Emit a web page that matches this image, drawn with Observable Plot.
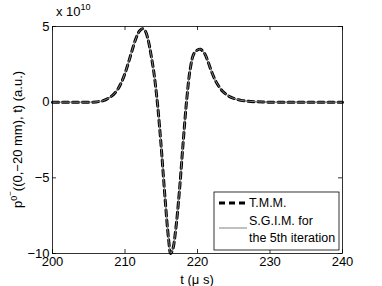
<!DOCTYPE html>
<html><head><meta charset="utf-8">
<script src="https://cdn.jsdelivr.net/npm/d3@7"></script>
<script src="https://cdn.jsdelivr.net/npm/@observablehq/plot@0.6"></script>
<style>
html,body{margin:0;padding:0;background:#fff;}
#chart{position:relative;width:382px;height:286px;font-family:"Liberation Sans",Arial,sans-serif;}
</style></head>
<body><div id="chart"></div>
<script>
const times = [200,201,202,203,204,205,206,206.5,207,207.5,208,208.5,209,209.5,210,210.5,211,211.5,212,212.4,212.8,213.2,213.6,214,214.5,215,215.5,216,216.3,216.6,217,217.5,218,218.5,219,219.5,220,220.4,221,221.5,222,222.5,223,223.5,224,224.5,225,226,227,228,229,230,232,234,236,238,240];
const tmm = [0,0,0,0,0,0,0.01,0.05,0.1,0.2,0.35,0.55,0.85,1.3,1.9,2.65,3.45,4.2,4.7,4.85,4.7,4.1,3.1,1.9,-0.2,-3.0,-6.2,-9.0,-10.0,-9.7,-8.4,-5.9,-2.8,0.1,2.2,3.2,3.45,3.5,3.2,2.6,1.95,1.4,1.0,0.7,0.5,0.35,0.25,0.12,0.06,0.03,0.01,0,0,0,0,0,0];
const sgim = tmm.slice();
const xTicks = [200,210,220,230,240];
const yTicks = [5,0,-5,-10];
const seriesNames = ["T.M.M.", "S.G.I.M. for", "the 5th iteration"];

const rowsA = times.map((t,i)=>({t, v: tmm[i]}));
const rowsB = times.map((t,i)=>({t, v: sgim[i]}));

const W = 382, H = 286;
const mL = 52, mR = 40, mT = 26, mB = 33;
const pxPerX = (W - mL - mR) / 40;
const pxPerY = (H - mT - mB) / 15;
const tx = 4 / pxPerX, ty = 4 / pxPerY;

const fmt = d => d < 0 ? "\u2212" + Math.abs(d) : String(d);

const plot = Plot.plot({
  width: W, height: H,
  marginLeft: mL, marginRight: mR, marginTop: mT, marginBottom: mB,
  style: {fontFamily: '"Liberation Sans", Arial, sans-serif', fontSize: "13px", color: "#000", background: "#fff"},
  x: {domain: [200, 240]},
  y: {domain: [-10, 5]},
  marks: [
    Plot.axisX(xTicks, {tickSize: 0, tickPadding: 3, label: null, fontSize: 13, tickFormat: fmt}),
    Plot.axisY(yTicks, {tickSize: 0, tickPadding: 3, label: null, fontSize: 13, tickFormat: fmt}),
    Plot.ruleX(xTicks, {y1: -10, y2: -10 + ty, stroke: "#000", strokeWidth: 0.8}),
    Plot.ruleX(xTicks, {y1: 5, y2: 5 - ty, stroke: "#000", strokeWidth: 0.8}),
    Plot.ruleY(yTicks, {x1: 200, x2: 200 + tx, stroke: "#000", strokeWidth: 0.8}),
    Plot.ruleY(yTicks, {x1: 240, x2: 240 - tx, stroke: "#000", strokeWidth: 0.8}),
    Plot.line(rowsA, {x: "t", y: "v", stroke: "#000", strokeWidth: 3, strokeDasharray: "6,4", curve: "catmull-rom"}),
    Plot.line(rowsB, {x: "t", y: "v", stroke: "#808080", strokeWidth: 1, curve: "catmull-rom"}),
    Plot.frame({stroke: "#000", strokeWidth: 0.8})
  ]
});
document.getElementById("chart").appendChild(plot);

const svg = d3.select(plot);
const font = '"Liberation Sans", Arial, sans-serif';
// exponent label
const ex = svg.append("text").attr("x", 56).attr("y", 16).attr("text-anchor", "start")
  .attr("font-family", font).attr("font-size", 13).attr("fill", "#000");
ex.append("tspan").text("x 10");
ex.append("tspan").attr("dy", -6).attr("font-size", 9).text("10");

// x label
svg.append("text").attr("x", (mL + W - mR) / 2).attr("y", 284).attr("text-anchor", "middle")
  .attr("font-family", font).attr("font-size", 13).attr("fill", "#000").text("t (\u03bc s)");

// y label
const yl = svg.append("text").attr("transform", `translate(22,${(mT + H - mB) / 2}) rotate(-90)`)
  .attr("text-anchor", "middle").attr("font-family", font).attr("font-size", 13).attr("fill", "#000");
yl.append("tspan").text("p");
yl.append("tspan").attr("dy", -5).attr("font-size", 9).text("0");
yl.append("tspan").attr("dy", -4).attr("font-size", 8).text("\u2212");
yl.append("tspan").attr("dy", 9).text("((0,\u221220 mm), t) (a.u.)");

// legend
const lg = svg.append("g");
lg.append("rect").attr("x", 214).attr("y", 192).attr("width", 125).attr("height", 58)
  .attr("fill", "#fff").attr("stroke", "#000").attr("stroke-width", 0.8);
lg.append("line").attr("x1", 219).attr("x2", 247).attr("y1", 203).attr("y2", 203)
  .attr("stroke", "#000").attr("stroke-width", 3).attr("stroke-dasharray", "6,4");
lg.append("line").attr("x1", 219).attr("x2", 247).attr("y1", 228).attr("y2", 228)
  .attr("stroke", "#808080").attr("stroke-width", 1);
seriesNames.forEach((s, i) => {
  lg.append("text").attr("x", 249).attr("y", [207, 225, 242][i]).attr("text-anchor", "start")
    .attr("font-family", font).attr("font-size", 12.5).attr("fill", "#000").text(s);
});
</script></body></html>
